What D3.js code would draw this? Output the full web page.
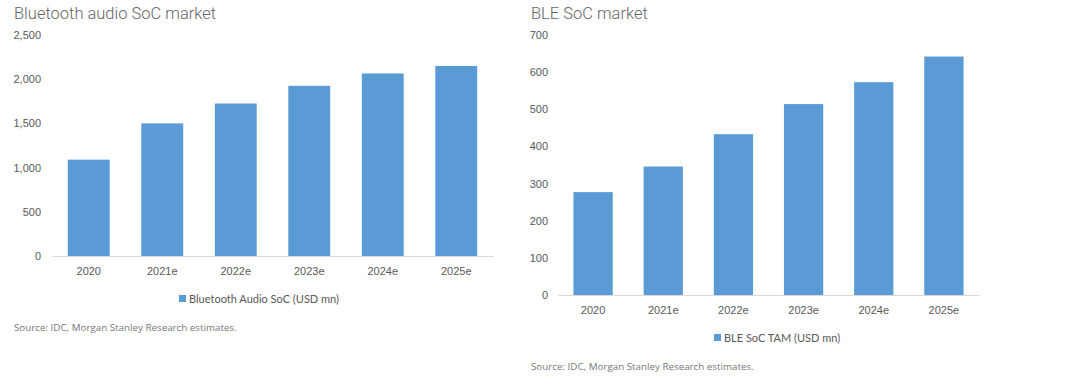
<!DOCTYPE html>
<html>
<head>
<meta charset="utf-8">
<script src="https://cdn.jsdelivr.net/npm/d3@7"></script>
<style>
  body { margin: 0; background: #fff; }
  svg { display: block; font-family: "Open Sans", "Noto Sans", sans-serif; }
</style>
</head>
<body>
<svg id="chart"></svg>
<script>
let years = ['2020', '2021e', '2022e', '2023e', '2024e', '2025e']

// left chart
let audioValues = [1090, 1500, 1725, 1925, 2065, 2150]
let audioTicks = [0, 500, 1000, 1500, 2000, 2500]

// right chart
let bleValues = [277, 346, 433, 514, 573, 642]
let bleTicks = [0, 100, 200, 300, 400, 500, 600, 700]

let width = 1080
let height = 383
let barColor = '#5b9bd5'

let svg = d3.select('#chart')
    .attr('width', width)
    .attr('height', height)

let drawPanel = (opts) => {
    let xScale = d3.scaleBand()
                    .domain(years)
                    .range([opts.x0, opts.x1])
                    .paddingInner(opts.pad)
                    .paddingOuter(opts.pad / 2)
    let yScale = d3.scaleLinear()
                    .domain([0, opts.max])
                    .range([opts.y0, opts.y1])

    let g = svg.append('g')

    // title
    g.append('text')
        .attr('x', opts.titleX)
        .attr('y', 19)
        .attr('font-size', 16.5)
        .attr('font-family', 'Roboto, sans-serif')
        .attr('font-weight', 300)
        .attr('fill', '#666')
        .text(opts.title)

    // y axis, no line
    let yAxis = d3.axisLeft(yScale)
                    .tickValues(opts.ticks)
                    .tickSize(0)
                    .tickPadding(0)
                    .tickFormat(d3.format(','))
    let ya = g.append('g')
        .attr('transform', 'translate(' + opts.tickX + ',0)')
        .call(yAxis)
    ya.select('.domain').remove()
    ya.selectAll('text').attr('font-size', 11).attr('fill', '#595959')

    // bars
    g.selectAll('rect')
        .data(opts.values)
        .enter()
        .append('rect')
        .attr('x', (d, i) => xScale(years[i]))
        .attr('y', (d) => yScale(d))
        .attr('width', xScale.bandwidth())
        .attr('height', (d) => opts.y0 - yScale(d))
        .attr('fill', barColor)

    // x axis
    let xAxis = d3.axisBottom(xScale).tickSize(0).tickPadding(11)
    let xa = g.append('g')
        .attr('transform', 'translate(0,' + opts.y0 + ')')
        .call(xAxis)
    xa.select('.domain').attr('stroke', '#d9d9d9')
    xa.selectAll('text').attr('font-size', 11).attr('fill', '#595959')

    // legend
    let lg = g.append('g')
    lg.append('rect')
        .attr('x', opts.legendX)
        .attr('y', opts.legendY - 4)
        .attr('width', 7)
        .attr('height', 7)
        .attr('fill', barColor)
    lg.append('text')
        .attr('x', opts.legendX + 10)
        .attr('y', opts.legendY + 4)
        .attr('font-size', 11)
        .attr('font-family', 'Lato, sans-serif')
        .attr('fill', '#595959')
        .text(opts.legend)

    // source
    g.append('text')
        .attr('x', opts.titleX)
        .attr('y', opts.sourceY + 3.5)
        .attr('font-size', 9.8)
        .attr('fill', '#777')
        .text('Source: IDC, Morgan Stanley Research estimates.')
}

drawPanel({
    title: 'Bluetooth audio SoC market',
    titleX: 14,
    tickX: 41,
    x0: 52, x1: 493, pad: 0.43,
    y0: 256, y1: 35, max: 2500,
    ticks: audioTicks,
    values: audioValues,
    legend: 'Bluetooth Audio SoC (USD mn)',
    legendX: 179, legendY: 299,
    sourceY: 327
})

drawPanel({
    title: 'BLE SoC market',
    titleX: 531,
    tickX: 548,
    x0: 558, x1: 979, pad: 0.44,
    y0: 295, y1: 35, max: 700,
    ticks: bleTicks,
    values: bleValues,
    legend: 'BLE SoC TAM (USD mn)',
    legendX: 714, legendY: 338,
    sourceY: 366
})
</script>
</body>
</html>
